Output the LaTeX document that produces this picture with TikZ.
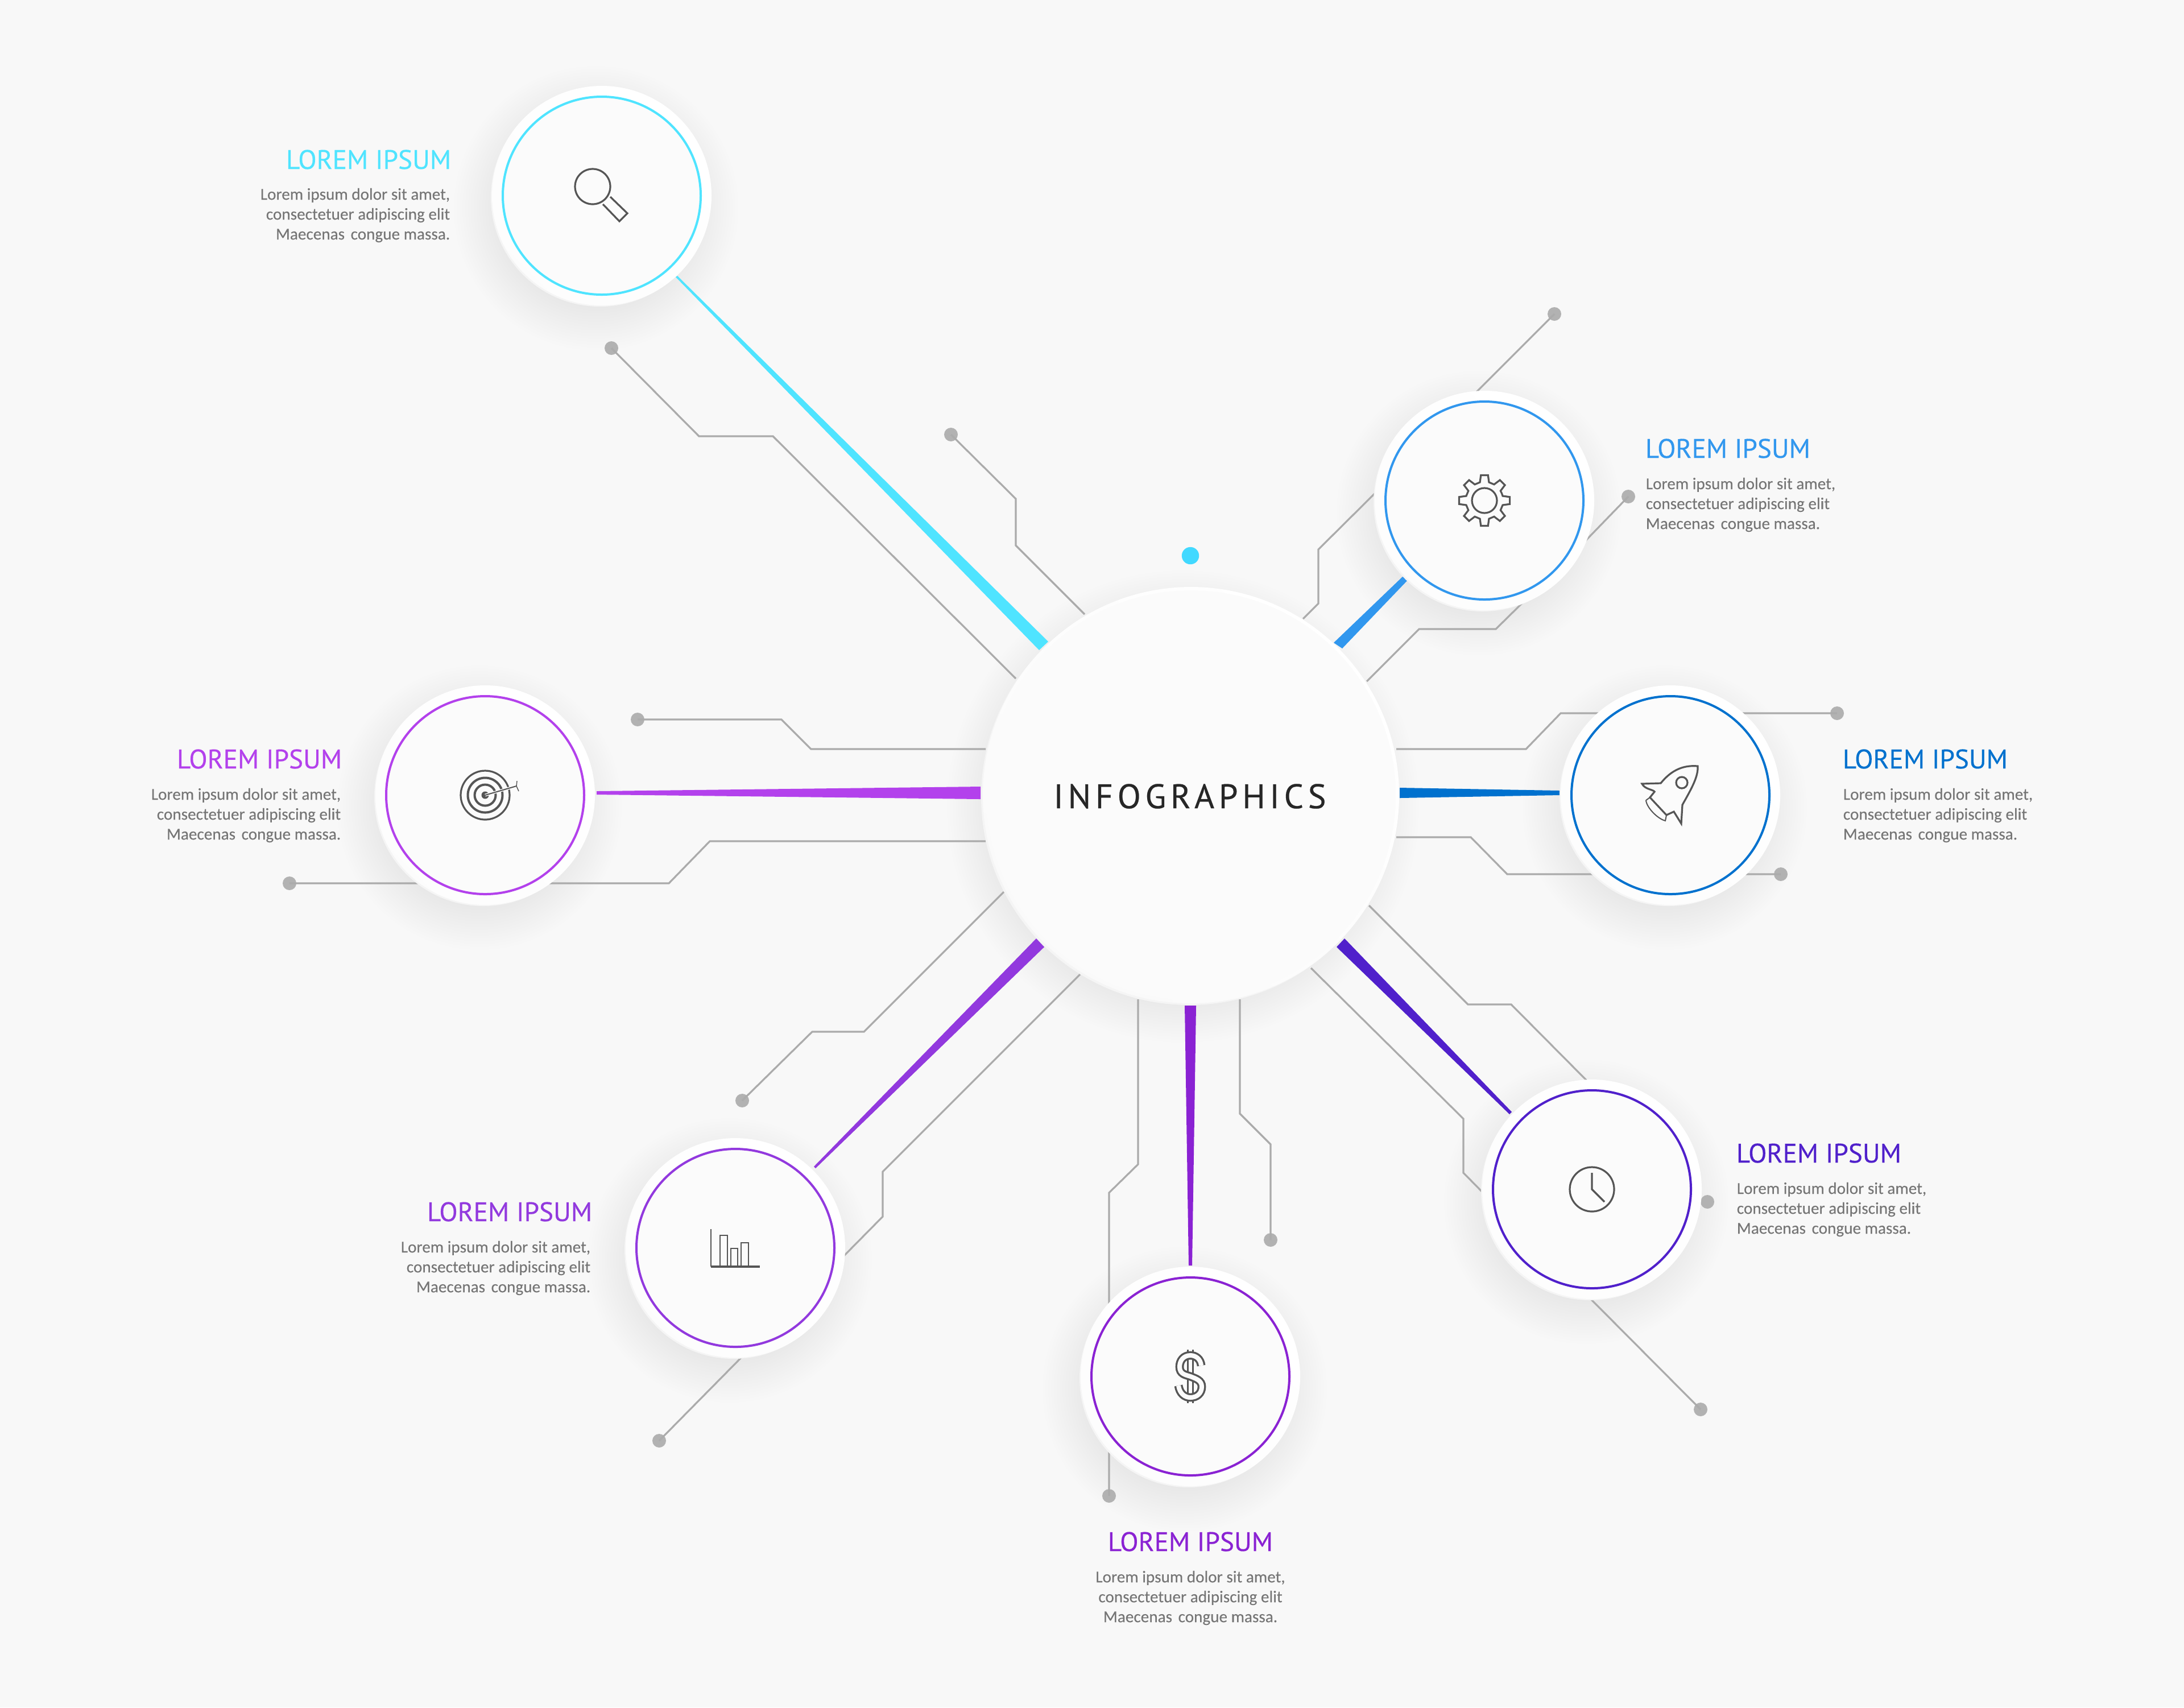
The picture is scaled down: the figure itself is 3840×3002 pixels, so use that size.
\documentclass[tikz,border=0pt]{standalone}
\usepackage{fontspec}
\setmainfont[FakeBold=0.12]{Carlito}
\newfontfamily\titlefont[FakeBold=0.25]{PT Sans}
\newfontfamily\headfont[LetterSpace=13,FakeBold=0.4]{PT Sans}
\definecolor{bgc}{HTML}{F8F8F8}
\definecolor{faceC}{HTML}{FBFBFB}
\definecolor{traceC}{HTML}{ABABAB}
\definecolor{dotC}{HTML}{B2B2B2}
\definecolor{iconC}{HTML}{555555}
\definecolor{bodyC}{HTML}{757575}
\definecolor{cCyan}{HTML}{4FE4FF}
\definecolor{cGear}{HTML}{3197EE}
\definecolor{cRocket}{HTML}{0071CE}
\definecolor{cTarget}{HTML}{B341EC}
\definecolor{cChart}{HTML}{9239DE}
\definecolor{cDollar}{HTML}{8A22D3}
\definecolor{cClock}{HTML}{5020CB}
\definecolor{cDot}{HTML}{42D9FF}
\tikzset{
  x=0.25pt,y=-0.25pt,
  trace/.style={draw=traceC,line width=0.8pt,line join=miter},
  endDot/.style={circle,fill=dotC,inner sep=0pt,minimum size=6pt},
  rim/.style={circle,inner sep=0pt,minimum size=96.5pt,top color=white,bottom color=black!1,shading angle=-45},
  rimLow/.style={circle,inner sep=0pt,minimum size=96pt,fill=black!4},
  ring/.style={circle,inner sep=0pt,minimum size=87pt,fill=faceC,draw=#1,line width=1pt},
  hubRim/.style={circle,inner sep=0pt,minimum size=183pt,top color=white,bottom color=black!2,shading angle=-45},
  hubLow/.style={circle,inner sep=0pt,minimum size=183pt,fill=black!4},
  hubFace/.style={circle,inner sep=0pt,minimum size=180pt,fill=faceC},
  icon/.style={draw=iconC,line width=0.8pt,line join=miter},
  iconThin/.style={draw=iconC,line width=0.5pt},
  titleTxt/.style={font=\titlefont\fontsize{11.8}{13}\selectfont,inner sep=0pt,text=#1},
  bodyTxt/.style={font=\fontsize{7.3}{8.75}\selectfont,inner sep=0pt,text=bodyC},
}
\newcommand{\softshadow}[4]{\foreach \k in {0,...,15}{\fill[black,opacity=#4] (#1,#2) circle[radius=#3+\k*5];}}
\newcommand{\bodylines}{Lorem ipsum dolor sit amet,\\consectetuer adipiscing elit\\Maecenas\hspace{1pt} congue massa.}
\begin{document}
\begin{tikzpicture}
\useasboundingbox (0,0) rectangle (3840,3002);
\fill[bgc] (0,0) rectangle (3840,3002);

% soft shadows
\softshadow{1048}{366}{175}{.004}
\softshadow{2600}{902}{175}{.004}
\softshadow{2927}{1420}{175}{.004}
\softshadow{843}{1420}{175}{.004}
\softshadow{1283}{2216}{175}{.004}
\softshadow{2083}{2442}{175}{.004}
\softshadow{2789}{2113}{175}{.004}
\softshadow{2080}{1418}{340}{.005}

% end dots
\node[endDot] (d1) at (1075,612) {};
\node[endDot] (d2) at (1672,764) {};
\node[endDot] (d3) at (1121,1265) {};
\node[endDot] (d4) at (509,1553) {};
\node[endDot] (d5) at (1305,1935) {};
\node[endDot] (d7) at (1159,2533) {};
\node[endDot] (d8) at (1950,2630) {};
\node[endDot] (d9) at (2234,2180) {};
\node[endDot] (d12) at (2990,2478) {};
\node[endDot] (d13) at (3002,2113) {};
\node[endDot] (d14) at (3131,1537) {};
\node[endDot] (d15) at (3230,1254) {};
\node[endDot] (d16) at (2733,552) {};
\node[endDot] (d17) at (2863,873) {};

% free ends of the traces
\coordinate (e1) at (1786,1193);
\coordinate (e2) at (1907,1080);
\coordinate (e3) at (1733,1317);
\coordinate (e4) at (1733,1479);
\coordinate (e5) at (1765,1568);
\coordinate (e6a) at (1899,1713);
\coordinate (e6b) at (1470,2222);
\coordinate (e7) at (1310,2380);
\coordinate (e8) at (2001,1757);
\coordinate (e9) at (2180,1757);
\coordinate (e10a) at (2407,1592);
\coordinate (e10b) at (2800,1910);
\coordinate (e11a) at (2305,1702);
\coordinate (e11b) at (2630,2120);
\coordinate (e12) at (2790,2277);
\coordinate (e14) at (2455,1472);
\coordinate (e15) at (2455,1317);
\coordinate (e16) at (2560,725);
\coordinate (e17a) at (2291,1088);
\coordinate (e17b) at (2460,825);
\coordinate (e17c) at (2740,1000);
\coordinate (e18a) at (2403,1198);
\coordinate (e18b) at (2700,1037);

% traces
\draw[trace] (d1.center) -- (1229,767) -- (1359,767) -- (e1);
\draw[trace] (d2.center) -- (1786,877) -- (1786,959) -- (e2);
\draw[trace] (d3.center) -- (1374,1265) -- (1426,1317) -- (e3);
\draw[trace] (d4.center) -- (1176,1553) -- (1248,1479) -- (e4);
\draw[trace] (e5) -- (1519,1814) -- (1428,1814) -- (d5.center);
\draw[trace] (e6a) -- (1552,2060) -- (1552,2139) -- (e6b);
\draw[trace] (e7) -- (d7.center);
\draw[trace] (e8) -- (2001,2047) -- (1950,2097) -- (d8.center);
\draw[trace] (e9) -- (2180,1958) -- (2234,2012) -- (d9.center);
\draw[trace] (e10a) -- (2581,1766) -- (2657,1766) -- (e10b);
\draw[trace] (e11a) -- (2573,1967) -- (2573,2062) -- (e11b);
\draw[trace] (e12) -- (d12.center);
\draw[trace] (e14) -- (2586,1472) -- (2650,1537) -- (d14.center);
\draw[trace] (e15) -- (2683,1317) -- (2744,1254) -- (d15.center);
\draw[trace] (e16) -- (d16.center);
\draw[trace] (e17a) -- (2318,1061) -- (2318,966) -- (e17b);
\draw[trace] (e17c) -- (d17.center);
\draw[trace] (e18a) -- (2495,1106) -- (2630,1106) -- (e18b);

% tapered beams
\fill[cCyan] (1188,487) -- (1191,485) -- (1843,1128) -- (1827,1143) -- cycle;
\fill[cGear] (2467,1013) -- (2474,1021) -- (2360,1140) -- (2345,1130) -- cycle;
\fill[cRocket] (2742,1390) -- (2742,1398) -- (2461,1403) -- (2461,1385) -- cycle;
\fill[cTarget] (1049,1391) -- (1049,1397) -- (1724,1405) -- (1724,1383) -- cycle;
\fill[cChart] (1431,2051) -- (1434,2054) -- (1836,1665) -- (1822,1650) -- cycle;
\fill[cDollar] (2090,2225) -- (2096,2225) -- (2103,1768) -- (2083,1768) -- cycle;
\fill[cClock] (2658,1955) -- (2654,1959) -- (2350,1665) -- (2364,1650) -- cycle;

% the seven outer discs
\node[rimLow] (r1b) at (1055,347) {};
\node[rim] (r1) at (1058,344) {};
\node[ring=cCyan] (c1) at (1058,344) {};
\node[rimLow] (r2b) at (2607,883) {};
\node[rim] (r2) at (2610,880) {};
\node[ring=cGear] (c2) at (2610,880) {};
\node[rimLow] (r3b) at (2934,1401) {};
\node[rim] (r3) at (2937,1398) {};
\node[ring=cRocket] (c3) at (2937,1398) {};
\node[rimLow] (r4b) at (850,1401) {};
\node[rim] (r4) at (853,1398) {};
\node[ring=cTarget] (c4) at (853,1398) {};
\node[rimLow] (r5b) at (1290,2197) {};
\node[rim] (r5) at (1293,2194) {};
\node[ring=cChart] (c5) at (1293,2194) {};
\node[rimLow] (r6b) at (2090,2423) {};
\node[rim] (r6) at (2093,2420) {};
\node[ring=cDollar] (c6) at (2093,2420) {};
\node[rimLow] (r7b) at (2796,2094) {};
\node[rim] (r7) at (2799,2091) {};
\node[ring=cClock] (c7) at (2799,2091) {};

% hub
\node[hubLow] (hubL) at (2091,1401) {};
\node[hubRim] (hubR) at (2094,1398) {};
\node[hubFace] (hub) at (2094,1398) {};
\node[circle,fill=cDot,inner sep=0pt,minimum size=7.6pt] (topDot) at (2093,977) {};
\node[font=\headfont\fontsize{15}{17}\selectfont,inner sep=0pt,text=black!85,anchor=base] (hubTxt) at (2092,1421) {INFOGRAPHICS};

% texts
\node[titleTxt=cCyan,anchor=base east] (t1) at (794,297) {LOREM IPSUM};
\node[bodyTxt,align=right,anchor=north east] (b1) at (792,330) {\bodylines};
\node[titleTxt=cGear,anchor=base west] (t2) at (2892,805) {LOREM IPSUM};
\node[bodyTxt,align=left,anchor=north west] (b2) at (2893,839) {\bodylines};
\node[titleTxt=cRocket,anchor=base west] (t3) at (3239,1351) {LOREM IPSUM};
\node[bodyTxt,align=left,anchor=north west] (b3) at (3240,1385) {\bodylines};
\node[titleTxt=cTarget,anchor=base east] (t4) at (602,1351) {LOREM IPSUM};
\node[bodyTxt,align=right,anchor=north east] (b4) at (600,1385) {\bodylines};
\node[titleTxt=cChart,anchor=base east] (t5) at (1042,2147) {LOREM IPSUM};
\node[bodyTxt,align=right,anchor=north east] (b5) at (1039,2181) {\bodylines};
\node[titleTxt=cDollar,anchor=base] (t6) at (2093,2727) {LOREM IPSUM};
\node[bodyTxt,align=center,anchor=north] (b6) at (2093,2761) {\bodylines};
\node[titleTxt=cClock,anchor=base west] (t7) at (3052,2044) {LOREM IPSUM};
\node[bodyTxt,align=left,anchor=north west] (b7) at (3053,2078) {\bodylines};

% icons
% magnifier
\draw[icon] (1042,328) circle[radius=31];
\draw[icon] (1073,346) -- (1103,375) -- (1089,389) -- (1060,359);
% gear
\begin{scope}[shift={(2610,880)}]
\draw[icon] (0,0) circle[radius=22];
\draw[icon] (-22.5:33) foreach \a in {0,45,...,315} { -- (\a-14:33) -- (\a-8:45) -- (\a+8:45) -- (\a+14:33) } -- cycle;
\end{scope}
% rocket
\draw[icon] (2985,1347) .. controls (2962,1345) and (2940,1352) .. (2920,1377) -- (2887,1378) .. controls (2892,1388) and (2907,1388) .. (2909,1392) -- (2901,1402) -- (2930,1433) -- (2943,1427) -- (2956,1448) -- (2958,1415) .. controls (2975,1385) and (2986,1365) .. (2985,1347) -- cycle;
\draw[icon] (2957,1376) circle[radius=10];
\draw[iconThin] (2894,1407) .. controls (2895,1420) and (2915,1440) .. (2928,1443) -- (2930,1433);
\draw[iconThin] (2894,1407) -- (2901,1402);
% target
\begin{scope}[shift={(853,1398)}]
\draw[icon] (0,0) circle[radius=43];
\draw[icon,line width=1pt] (0,0) circle[radius=30.5];
\draw[icon,line width=1pt] (0,0) circle[radius=18.5];
\fill[iconC] (0,0) circle[radius=6.5];
\draw[draw=faceC,line width=1.2pt] (0,0) -- (55,-16);
\draw[iconThin] (0,0) -- (55,-16);
\draw[iconThin,line width=0.35pt] (55,-16) -- (56,-25);
\draw[iconThin,line width=0.35pt] (55,-16) -- (59,-7);
\end{scope}
% chart
\draw[icon,line width=0.5pt] (1250,2161) -- (1250,2227);
\draw[icon] (1250,2227) -- (1336,2227);
\draw[iconThin] (1266,2226) -- (1266,2172) -- (1279,2172) -- (1279,2226);
\draw[iconThin] (1285,2226) -- (1285,2195) -- (1297,2195) -- (1297,2226);
\draw[iconThin] (1303,2226) -- (1303,2185) -- (1316,2185) -- (1316,2226);
% dollar
\begin{scope}[shift={(2093,2420)}]
\draw[icon,line width=0.85pt,double=faceC,double distance=1.5pt] (0,-47) -- (0,47);
\draw[icon,line width=0.85pt,double=faceC,double distance=2pt] (19,-19) .. controls (18,-31) and (9,-37) .. (0,-37) .. controls (-12,-37) and (-19,-28) .. (-19,-17) .. controls (-19,-4) and (-9,-3) .. (0,0) .. controls (10,4) and (20,7) .. (20,18) .. controls (20,30) and (11,37) .. (0,37) .. controls (-10,37) and (-19,30) .. (-21,16);
\end{scope}
% clock
\draw[icon] (2799,2091) circle[radius=39];
\draw[icon] (2799,2062) -- (2799,2091) -- (2821,2113);
\end{tikzpicture}
\end{document}
